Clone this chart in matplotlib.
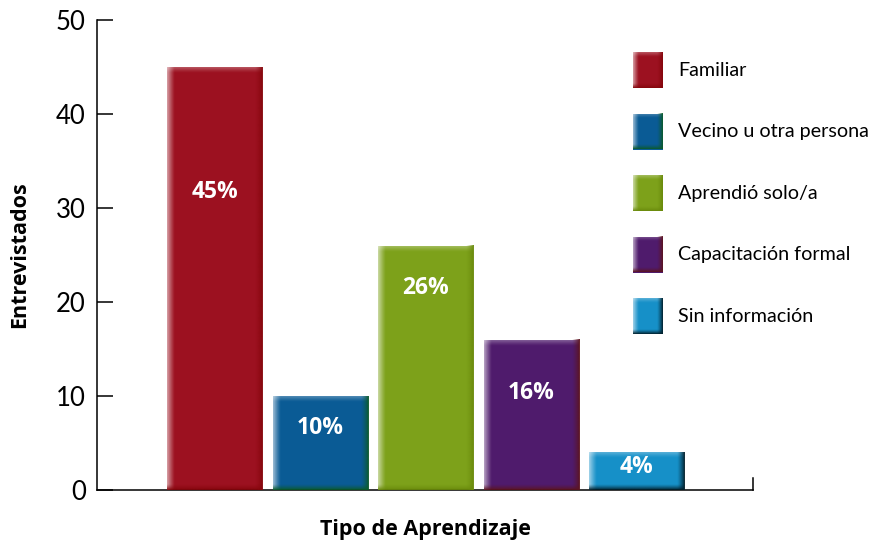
import matplotlib
matplotlib.use("Agg")
import matplotlib.pyplot as plt
import numpy as np
from matplotlib.colors import to_rgb

plt.rcParams["font.family"] = ["Lato", "DejaVu Sans"]
BOLD = ["Open Sans", "DejaVu Sans"]

categories = ["Familiar", "Vecino u otra persona", "Aprendió solo/a",
              "Capacitación formal", "Sin información"]
values = [45, 10, 26, 16, 4]
pct_labels = ["45%", "10%", "26%", "16%", "4%"]
label_y = [31.7, 6.6, 21.5, 10.3, 2.4]

face_colors = ["#9c1120", "#0a5b95", "#7da11a", "#4f1b6c", "#1690c8"]
edge_colors = ["#85060c", "#0b5a2c", "#6a8a0c", "#5c1420", "#02202c"]

W, H = 873, 542
fig = plt.figure(figsize=(W / 100, H / 100), dpi=100)
ax = fig.add_axes([97 / W, 1 - 490 / H, (753 - 97) / W, (490 - 20) / H])


def bevel(a, x0, y0, w, h, face, edge, bw, bh):
    """draw a box with light left/top and dark right/bottom edges"""
    a.add_patch(plt.Rectangle((x0, y0), w, h, facecolor=face, edgecolor="none", zorder=2))
    er = np.array(to_rgb(edge))
    n = 32
    t = np.linspace(0, 1, n)
    # left highlight
    img = np.zeros((1, n, 4))
    img[..., :3] = 1
    img[0, :, 3] = 0.6 * (1 - t) ** 1.2
    a.imshow(img, extent=(x0, x0 + bw, y0, y0 + h), aspect="auto", zorder=3, interpolation="bilinear")
    # top highlight
    img = np.zeros((n, 1, 4))
    img[..., :3] = 1
    img[:, 0, 3] = 0.3 * (1 - t) ** 1.3
    a.imshow(img, extent=(x0, x0 + w, y0 + h - bh, y0 + h), aspect="auto", zorder=3,
             interpolation="bilinear", origin="upper")
    # right shade
    img = np.zeros((1, n, 4))
    img[..., :3] = er
    img[0, :, 3] = t ** 1.3
    a.imshow(img, extent=(x0 + w - bw, x0 + w, y0, y0 + h), aspect="auto", zorder=4, interpolation="bilinear")
    # bottom shade
    img = np.zeros((n, 1, 4))
    img[..., :3] = er
    img[:, 0, 3] = t ** 1.3
    a.imshow(img, extent=(x0, x0 + w, y0, y0 + bh), aspect="auto", zorder=4,
             interpolation="bilinear", origin="upper")


x = np.arange(len(values))
bar_w = 0.9
px_x = 105.5
px_y = 9.4
bars = ax.bar(x, values, width=bar_w, color=face_colors, zorder=1)
for b, fc, ec in zip(bars, face_colors, edge_colors):
    b.set_visible(False)
    bevel(ax, b.get_x(), 0, b.get_width(), b.get_height(), fc, ec, 7 / px_x, 6 / px_y)

for xi, ly, lab in zip(x, label_y, pct_labels):
    ax.text(xi, ly, lab, ha="center", va="center", color="white",
            fontsize=16.5, fontweight="bold", family=BOLD, zorder=6)

ax.set_xlim(-1.114, 5.104)
ax.set_ylim(0, 50)
ax.set_yticks([0, 10, 20, 30, 40, 50])
ax.set_xticks([])
ax.tick_params(axis="y", direction="in", length=11.5, width=1.1, labelsize=18.5, pad=8)
for s in ["top", "right"]:
    ax.spines[s].set_visible(False)
ax.spines["left"].set_linewidth(1.1)
ax.spines["bottom"].set_linewidth(1.1)
ax.plot([1, 1], [0, 12 / 470], transform=ax.transAxes, color="black", lw=1.1, clip_on=False)
ax.set_ylabel("Entrevistados", fontsize=15.5, fontweight="bold", family=BOLD)
ax.yaxis.set_label_coords(-(97 - 30) / 656, 0.5)
ax.text(0.5, -40 / 470, "Tipo de Aprendizaje", transform=ax.transAxes, ha="center",
        va="center", fontsize=15.5, fontweight="bold", family=BOLD)

# legend drawn in pixel space
lax = fig.add_axes([0, 0, 1, 1], zorder=5)
lax.axis("off")
lax.patch.set_alpha(0)
row_y = [70, 131.5, 193, 254.5, 316]
for cy, lab, fc, ec in zip(row_y, categories, face_colors, edge_colors):
    bevel(lax, 633, cy + 18, 30, -36, fc, ec, 6, -5)
    lax.text(678, cy, lab, ha="left", va="center", fontsize=14.2)
lax.set_xlim(0, W)
lax.set_ylim(H, 0)

fig.savefig("out.png", dpi=100)
